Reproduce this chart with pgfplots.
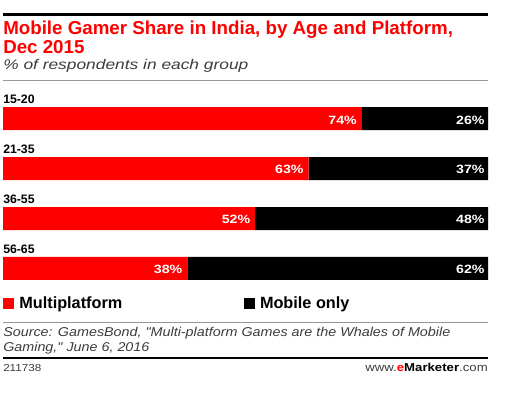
\documentclass[border=0pt]{standalone}
\usepackage{fontspec}
\setmainfont{Liberation Sans}
\newfontfamily\subfont[FakeStretch=1.24]{Liberation Sans}
\newfontfamily\srcfont[FakeStretch=1.12]{Liberation Sans}
\newfontfamily\pctfont[FakeStretch=1.18]{Liberation Sans}
\newfontfamily\footfont[FakeStretch=1.15]{Liberation Sans}
\usepackage{pgfplots}
\pgfplotsset{compat=1.18}
\usepackage{pgfplotstable}
\definecolor{emred}{RGB}{255,0,0}
\definecolor{rulegray}{RGB}{150,150,150}
\definecolor{txtgray}{RGB}{60,60,60}
\pgfplotstableread{
y multi mobile total
0 74 26 100
1 63 37 100
2 52 48 100
3 38 62 100
}\datatable
\pgfplotsset{
  panel/.style={
    at={(2.25pt,-210pt)}, anchor=south west,
    scale only axis, width=363.75pt, height=129.6pt,
    xmin=0, xmax=100,
    ymin=-0.231, ymax=3.231, y dir=reverse,
    clip=false,
  },
  pct/.style={
    only marks, mark=none, draw=none,
    nodes near coords={\pgfplotspointmeta\%},
    point meta=explicit symbolic,
    every node near coord/.append style={anchor=base east, text=white, inner sep=0pt, yshift=-4pt, font=\pctfont\fontsize{9}{10}\selectfont\bfseries},
  },
}
\begin{document}
\begin{tikzpicture}[x=0.75pt,y=-0.75pt]
\path[use as bounding box] (0,0) rectangle (517,398);
\draw[line width=2pt] (3,14.7) -- (488,14.7);
\node[anchor=base west, inner sep=0, text=emred, font=\fontsize{14.05}{16}\selectfont\bfseries] at (3,35) {Mobile Gamer Share in India, by Age and Platform,};
\node[anchor=base west, inner sep=0, text=emred, font=\fontsize{14.05}{16}\selectfont\bfseries] at (3,53.3) {Dec 2015};
\node[anchor=base west, inner sep=0, text=txtgray, font=\subfont\fontsize{10.5}{12}\selectfont\itshape] at (3,70) {\% of respondents in each group};
\draw[rulegray, line width=1.1pt] (3,80.5) -- (488,80.5);
\begin{axis}[
  panel,
  xbar stacked,
  bar width=0.461,
  hide x axis,
  y axis line style={draw=none},
  major tick length=0pt,
  ytick={0,1,2,3},
  yticklabels={15-20,21-35,36-55,56-65},
  yticklabel style={anchor=base west, inner sep=0pt, yshift=11.55pt, font=\fontsize{9.2}{11}\selectfont\bfseries},
  legend columns=2,
  legend style={at={(0,0)}, anchor=north west, yshift=-12.3pt, draw=none, fill=none,
    inner sep=0pt, outer sep=0pt, nodes={inner sep=0pt},
    font=\fontsize{12.2}{13}\selectfont\bfseries,
    /tikz/every odd column/.append style={column sep=3.75pt},
    /tikz/every even column/.append style={column sep=91pt}},
  legend image code/.code={\fill[#1] (0pt,-4pt) rectangle (8.5pt,4pt);},
]
\addplot[fill=emred, draw=none] table[x=multi, y=y] {\datatable};
\addplot[fill=black, draw=none] table[x=mobile, y=y] {\datatable};
\legend{Multiplatform, Mobile only}
\end{axis}
\begin{axis}[panel, hide axis]
\addplot[pct, every node near coord/.append style={xshift=-3.6pt}] table[x=multi, y=y, meta=multi] {\datatable};
\addplot[pct, every node near coord/.append style={xshift=-2.4pt}] table[x=total, y=y, meta=mobile] {\datatable};
\end{axis}
\draw[rulegray, line width=1.1pt] (3,322.3) -- (488,322.3);
\node[anchor=base west, inner sep=0, text=txtgray, font=\srcfont\fontsize{9.6}{11}\selectfont\itshape] at (3,336.7) {Source: GamesBond, "Multi-platform Games are the Whales of Mobile};
\node[anchor=base west, inner sep=0, text=txtgray, font=\srcfont\fontsize{9.6}{11}\selectfont\itshape] at (3,351.2) {Gaming," June 6, 2016};
\draw[line width=2.1pt] (3,358) -- (488,358);
\node[anchor=base west, inner sep=0, text=txtgray, font=\footfont\fontsize{7.6}{9}\selectfont] at (3,371.7) {211738};
\node[anchor=base east, inner sep=0, text=txtgray, font=\footfont\fontsize{8.6}{9}\selectfont] at (488,371.7) {www.{\bfseries\color{emred}e}{\bfseries\color{black}Marketer}.com};
\end{tikzpicture}
\end{document}
